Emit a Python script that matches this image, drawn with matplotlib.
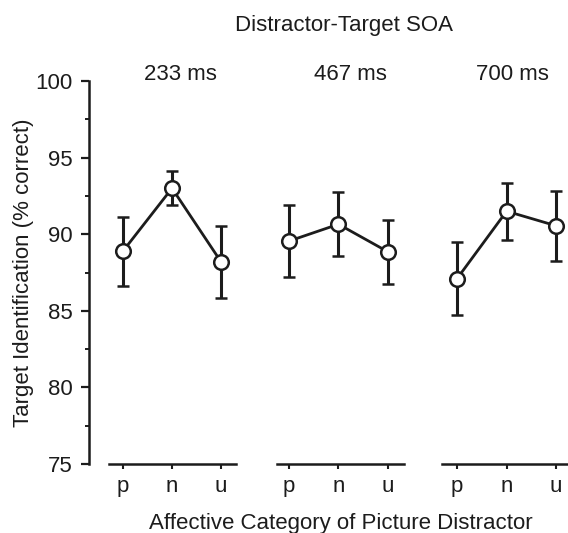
import matplotlib.pyplot as plt

plt.rcParams['font.family'] = ['Liberation Sans', 'DejaVu Sans']
plt.rcParams['font.size'] = 16

# data
soa_labels = ['233 ms', '467 ms', '700 ms']
categories = ['p', 'n', 'u']
accuracy_233 = [88.9, 93.0, 88.2]
accuracy_467 = [89.55, 90.65, 88.85]
accuracy_700 = [87.1, 91.5, 90.55]
sem_233 = [2.25, 1.1, 2.35]
sem_467 = [2.35, 2.1, 2.1]
sem_700 = [2.4, 1.85, 2.3]

accuracy = [accuracy_233, accuracy_467, accuracy_700]
sem = [sem_233, sem_467, sem_700]

W, H = 568, 533
ink = '#1c1c1c'
fig = plt.figure(figsize=(W / 100, H / 100), dpi=100)

# panel extents in pixels (left, right) and x limits
panels = [(89.2, 236.2, (-0.69, 2.31), (-0.29, 2.31)),
          (277.1, 403.8, (-0.24, 2.32), (-0.24, 2.32)),
          (442.2, 568.0, (-0.30, 2.24), (-0.30, 2.30))]
y_top, y_bot = 81, 464

x = list(range(len(categories)))
for i, (l, r, xl, xb) in enumerate(panels):
    ax = fig.add_axes([l / W, (H - y_bot) / H, (r - l) / W, (y_bot - y_top) / H])
    ax.patch.set_alpha(0)
    ax.errorbar(x, accuracy[i], yerr=sem[i], color=ink, lw=2, elinewidth=2.2,
                capsize=4.5, capthick=2.2, marker='o', ms=10.5, mfc='white',
                mec=ink, mew=1.8, clip_on=False, zorder=3)
    ax.set_xlim(*xl)
    ax.set_ylim(75, 100)
    ax.set_xticks(x)
    ax.set_xticklabels(categories)
    for s in ['top', 'right']:
        ax.spines[s].set_visible(False)
    ax.spines['bottom'].set_bounds(*xb)
    ax.spines['bottom'].set_linewidth(1.8)
    ax.spines['bottom'].set_color(ink)
    ax.tick_params(axis='x', length=3.5, width=1.5, color=ink, pad=5,
                   labelcolor=ink)
    if i == 0:
        ax.spines['left'].set_linewidth(1.8)
        ax.spines['left'].set_color(ink)
        ax.set_yticks([75, 80, 85, 90, 95, 100])
        ax.set_yticks([77.5, 82.5, 87.5, 92.5, 97.5], minor=True)
        ax.tick_params(axis='y', which='major', length=6, width=1.6, color=ink,
                       pad=6, labelcolor=ink)
        ax.tick_params(axis='y', which='minor', length=3, width=1.4, color=ink)
        ax.set_ylabel('Target Identification (% correct)', color=ink, labelpad=1)
    else:
        ax.spines['left'].set_visible(False)
        ax.set_yticks([])

# group labels
label_x = [180, 350, 512]
for lx, lab in zip(label_x, soa_labels):
    fig.text(lx / W, 1 - 75 / H, lab, ha='center', va='center', color=ink)

fig.text(344 / W, 1 - 25 / H, 'Distractor-Target SOA', ha='center', va='center',
         color=ink)
fig.text(341 / W, 1 - 523 / H, 'Affective Category of Picture Distractor',
         ha='center', va='center', color=ink)

fig.savefig('out.png', dpi=100)
